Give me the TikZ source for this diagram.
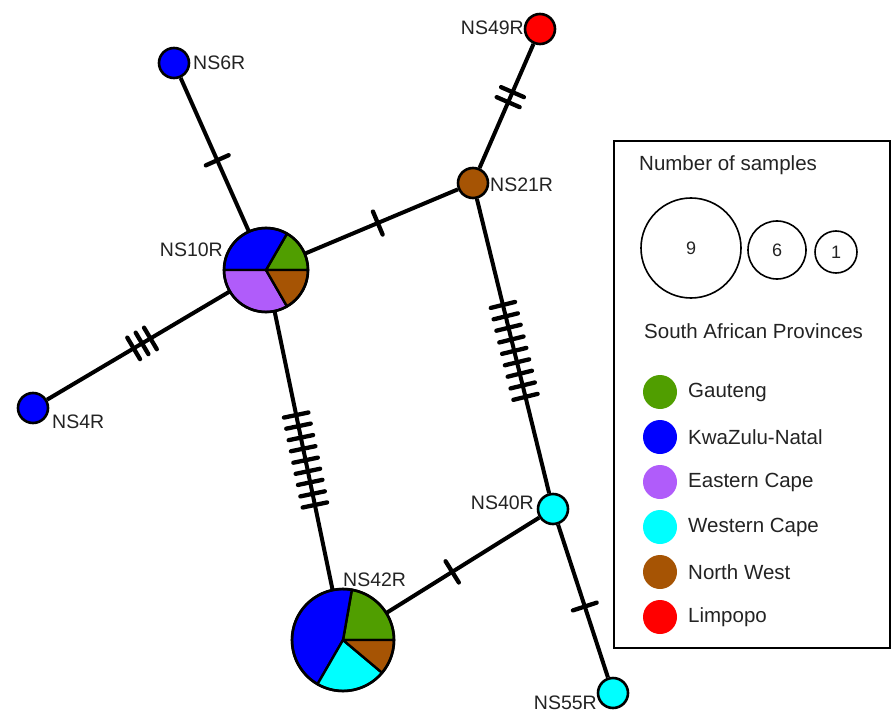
\documentclass[tikz,border=0pt]{standalone}
\usepackage{fontspec}
\setmainfont{Liberation Sans}
\usetikzlibrary{calc,backgrounds}
\definecolor{gau}{RGB}{80,158,0}
\definecolor{kzn}{RGB}{0,0,255}
\definecolor{eca}{RGB}{176,92,250}
\definecolor{wca}{RGB}{0,255,255}
\definecolor{nwe}{RGB}{166,84,4}
\definecolor{lim}{RGB}{255,0,0}
\definecolor{txt}{RGB}{35,35,35}
\newcommand\edgeticks[3]{\foreach \p in {#3} \draw[tickm] ($(#1)!\p!(#2)!12.5pt!90:(#2)$) -- ($(#1)!\p!(#2)!12.5pt!-90:(#2)$);}
\newcommand\piesector[5]{\filldraw[fill=#2, draw=black, line width=2.4pt, line join=round] (#1) -- ++(#3:#5) arc[start angle=#3, end angle=#4, radius=#5] -- cycle;}
\begin{document}
\begin{tikzpicture}[x=1pt,y=1pt,
  hap/.style={circle, draw=black, line width=2.6pt, inner sep=0pt, minimum size=30pt, fill=#1},
  pie/.style={circle, inner sep=0pt, minimum size=#1},
  edge/.style={line width=4pt},
  tickm/.style={line width=4.3pt, line cap=round},
  lbl/.style={inner sep=0pt, text=txt, font=\fontsize{19.5}{20}\selectfont},
  leg/.style={inner sep=0pt, text=txt, font=\fontsize{20.5}{21}\selectfont, anchor=west},
  legdot/.style={circle, inner sep=0pt, minimum size=34pt, fill=#1},
  sizec/.style={circle, draw=black, line width=1.6pt, inner sep=0pt, minimum size=#1, font=\fontsize{18}{18}\selectfont, text=txt}
]
\useasboundingbox (0,0) rectangle (893,716);
% haplotype nodes
\node[hap=kzn] (n6) at (174,653) {};
\node[hap=lim] (n49) at (540,687) {};
\node[hap=nwe] (n21) at (473,533) {};
\node[pie=84pt] (n10) at (266,446) {};
\node[hap=kzn] (n4) at (33,308) {};
\node[hap=wca] (n40) at (553,207) {};
\node[pie=102pt] (n42) at (343,76) {};
\node[hap=wca] (n55) at (613,23) {};
% pies
\piesector{n10.center}{gau}{0}{60}{42pt}
\piesector{n10.center}{kzn}{60}{180}{42pt}
\piesector{n10.center}{eca}{180}{300}{42pt}
\piesector{n10.center}{nwe}{300}{360}{42pt}
\draw[line width=2.6pt] (n10.center) circle[radius=42pt];
\piesector{n42.center}{gau}{0}{80}{51pt}
\piesector{n42.center}{kzn}{80}{240}{51pt}
\piesector{n42.center}{wca}{240}{320}{51pt}
\piesector{n42.center}{nwe}{320}{360}{51pt}
\draw[line width=2.6pt] (n42.center) circle[radius=51pt];
% edges
\begin{pgfonlayer}{background}
\draw[edge] (n6) -- (n10);
\draw[edge] (n49) -- (n21);
\draw[edge] (n21) -- (n10);
\draw[edge] (n10) -- (n4);
\draw[edge] (n21) -- (n40);
\draw[edge] (n10) -- (n42);
\draw[edge] (n42) -- (n40);
\draw[edge] (n40) -- (n55);
\end{pgfonlayer}
% mutation ticks
\edgeticks{n6}{n10}{0.47}
\edgeticks{n49}{n21}{0.41,0.475}
\edgeticks{n21}{n10}{0.46}
\edgeticks{n10}{n4}{0.496,0.532,0.568}
\edgeticks{n21}{n40}{0.374,0.409,0.444,0.480,0.515,0.550,0.585,0.621,0.656}
\edgeticks{n10}{n42}{0.392,0.422,0.453,0.483,0.514,0.544,0.574,0.605,0.635}
\edgeticks{n42}{n40}{0.52}
\edgeticks{n40}{n55}{0.53}
% labels
\node[lbl, anchor=west] (l6) at (193,653) {NS6R};
\node[lbl, anchor=east] (l49) at (524,688) {NS49R};
\node[lbl, anchor=west] (l21) at (490,531) {NS21R};
\node[lbl, anchor=east] (l10) at (223,466) {NS10R};
\node[lbl, anchor=west] (l4) at (52,294) {NS4R};
\node[lbl, anchor=east] (l40) at (534,213) {NS40R};
\node[lbl, anchor=west] (l42) at (343,136) {NS42R};
\node[lbl, anchor=east] (l55) at (597,13) {NS55R};
% legend
\draw[line width=1.8pt] (614,68) rectangle (890,575);
\node[leg] (lt1) at (639,551) {Number of samples};
\node[sizec=100pt] (s9) at (691,468) {9};
\node[sizec=58pt] (s6) at (777,466) {6};
\node[sizec=42pt] (s1) at (836,464) {1};
\node[leg] (lt2) at (644,385) {South African Provinces};
\node[legdot=gau] (d1) at (660,324) {};
\node[leg] (t1) at (688,324) {Gauteng};
\node[legdot=kzn] (d2) at (660,279) {};
\node[leg] (t2) at (688,279) {KwaZulu-Natal};
\node[legdot=eca] (d3) at (660,234) {};
\node[leg] (t3) at (688,234) {Eastern Cape};
\node[legdot=wca] (d4) at (660,189) {};
\node[leg] (t4) at (688,189) {Western Cape};
\node[legdot=nwe] (d5) at (660,144) {};
\node[leg] (t5) at (688,144) {North West};
\node[legdot=lim] (d6) at (660,99) {};
\node[leg] (t6) at (688,99) {Limpopo};
\end{tikzpicture}
\end{document}
